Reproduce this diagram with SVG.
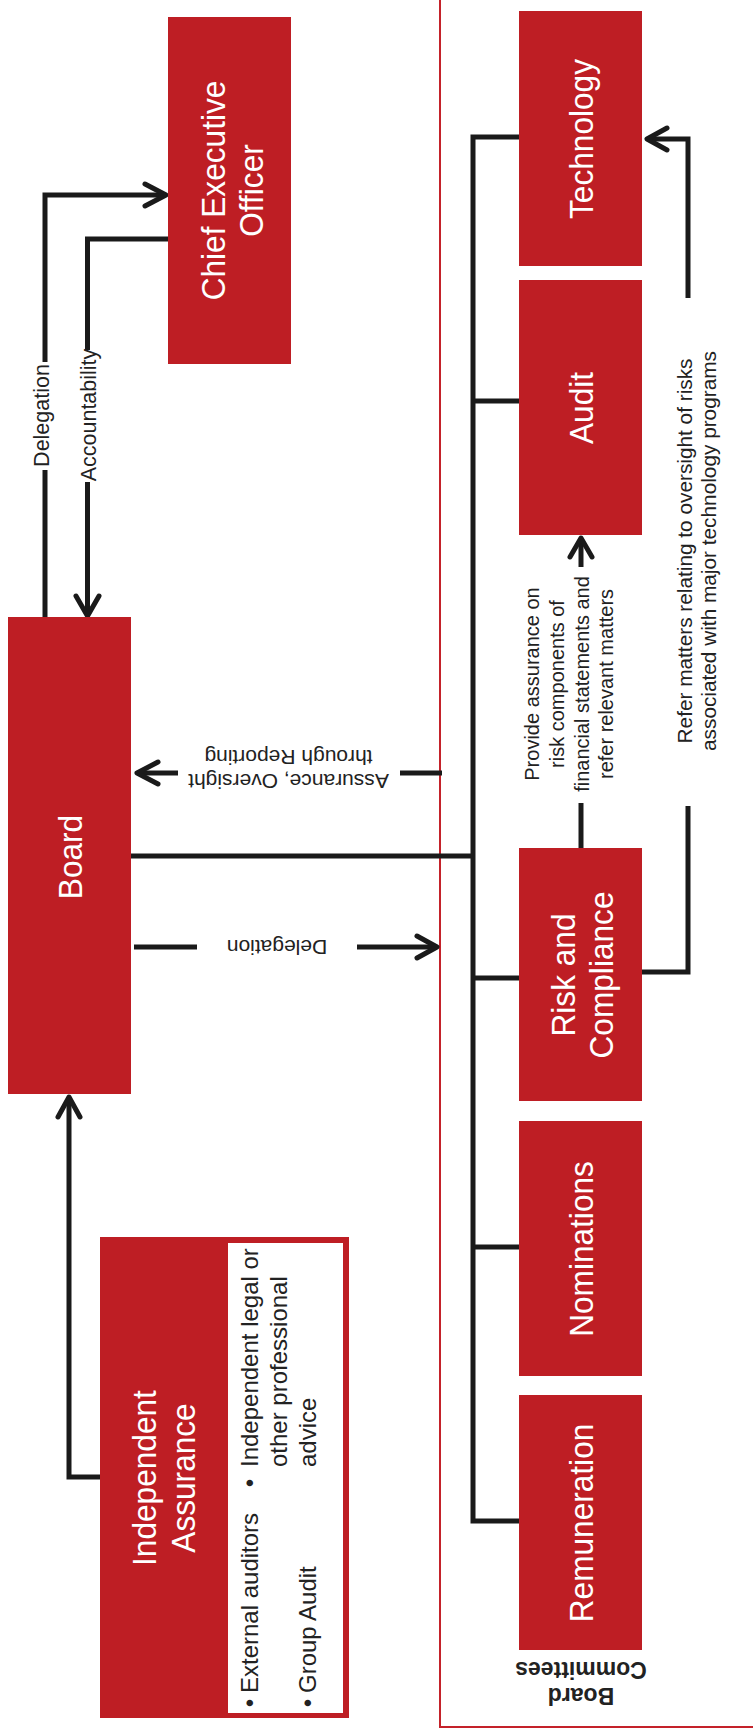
<svg xmlns="http://www.w3.org/2000/svg" width="753" height="1735" viewBox="0 0 753 1735">
<style>
.node{fill:#be1e24}
.t{font-family:"Liberation Sans",Arial,sans-serif;fill:#fff;font-size:34px;text-anchor:middle}
.l{font-family:"Liberation Sans",Arial,sans-serif;fill:#222;font-size:21px;text-anchor:middle}
.b{font-family:"Liberation Sans",Arial,sans-serif;fill:#222;font-size:24px}
.c{fill:none;stroke:#1a1a1a;stroke-width:5;stroke-linejoin:miter}
.h{fill:none;stroke:#1a1a1a;stroke-width:5;stroke-linecap:round;stroke-linejoin:round}
</style>
<rect width="753" height="1735" fill="#fff"/>
<g id="committees-frame">
<path d="M440,0 V1727 H753" fill="none" stroke="#c4222a" stroke-width="2"/>
<text class="l" style="font-weight:bold;font-size:23px" transform="translate(581,1675) rotate(180)"><tspan x="0" y="-13">Board</tspan><tspan x="0" y="13">Committees</tspan></text>
</g>
<g id="connectors">
<path class="c" d="M45,617 V470"/>
<path class="c" d="M45,362 V195 H164"/>
<path class="h" d="M145,184 L166,195 L145,206"/>
<path class="c" d="M170,239 H87.5 V350"/>
<path class="c" d="M87.5,482 V612"/>
<path class="h" d="M76,596 L87.5,616 L99,596"/>
<path class="c" d="M442,773 H400"/>
<path class="c" d="M178,773 H140"/>
<path class="h" d="M158,762 L137,773 L158,784"/>
<path class="c" d="M131,856 H473"/>
<path class="c" d="M134,947 H197"/>
<path class="c" d="M357,947 H434"/>
<path class="h" d="M417,936 L437,947 L417,958"/>
<path class="c" d="M519,137 H473 V1521 H519"/>
<path class="c" d="M473,401 H519"/>
<path class="c" d="M473,978 H519"/>
<path class="c" d="M473,1247 H519"/>
<path class="c" d="M100,1477 H69 V1100"/>
<path class="h" d="M58,1117 L69,1097 L80,1117"/>
<path class="c" d="M581,848 V803"/>
<path class="c" d="M581,567 V541"/>
<path class="h" d="M570,557 L581,538 L592,557"/>
<path class="c" d="M642,972 H688 V806"/>
<path class="c" d="M688,298 V139 H650"/>
<path class="h" d="M667,128 L647,139 L667,150"/>
<text class="l" style="font-size:21.5px" transform="translate(41,415.5) rotate(-90)" y="7.5">Delegation</text>
<text class="l" style="font-size:21.5px" transform="translate(88,415) rotate(-90)" y="7.5">Accountability</text>
<text class="l" transform="translate(288.5,762) rotate(180)"><tspan x="0" y="-12">Assurance, Oversight</tspan><tspan x="0" y="12">through Reporting</tspan></text>
<text class="l" transform="translate(277,947) rotate(180)" y="7.5">Delegation</text>
<text class="l" style="font-size:20px" transform="translate(576,684) rotate(-90)"><tspan x="0" y="-37">Provide assurance on</tspan><tspan x="0" y="-12">risk components of</tspan><tspan x="0" y="13">financial statements and</tspan><tspan x="0" y="37">refer relevant matters</tspan></text>
<text class="l" style="font-size:20.8px" transform="translate(0,551) rotate(-90)"><tspan x="0" y="692">Refer matters relating to oversight of risks</tspan><tspan x="0" y="716">associated with major technology programs</tspan></text>
</g>
<g id="ceo">
<rect class="node" x="168" y="17" width="123" height="347"/>
<text class="t" transform="translate(229.5,190.5) rotate(-90) scale(0.93,1)"><tspan x="0" y="-5">Chief Executive</tspan><tspan x="0" y="34">Officer</tspan></text>
</g>
<g id="board">
<rect class="node" x="8" y="617" width="123" height="477"/>
<text class="t" transform="translate(70,857) rotate(-90) scale(0.93,1)" y="12">Board</text>
</g>
<g id="independent-assurance">
<rect class="node" x="100" y="1237" width="249" height="481"/>
<rect x="228" y="1243" width="115" height="470" fill="#fff"/>
<text class="t" transform="translate(164,1478) rotate(-90) scale(0.93,1)"><tspan x="0" y="-8">Independent</tspan><tspan x="0" y="31">Assurance</tspan></text>
<g class="b" transform="translate(230,1718) rotate(-90)">
<text x="15" y="28" text-anchor="middle">•</text><text x="25" y="28">External auditors</text>
<text x="15" y="86" text-anchor="middle">•</text><text x="25" y="86">Group Audit</text>
<text x="235" y="28" text-anchor="middle">•</text><text x="251" y="28">Independent legal or</text>
<text x="251" y="57">other professional</text>
<text x="251" y="86">advice</text>
</g>
</g>
<g id="technology">
<rect class="node" x="519" y="11" width="123" height="255"/>
<text class="t" transform="translate(580.5,139) rotate(-90) scale(0.93,1)" y="12.5">Technology</text>
</g>
<g id="audit">
<rect class="node" x="519" y="280" width="123" height="255"/>
<text class="t" transform="translate(580.5,408) rotate(-90) scale(0.93,1)" y="12.5">Audit</text>
</g>
<g id="risk-compliance">
<rect class="node" x="519" y="848" width="123" height="253"/>
<text class="t" transform="translate(580.5,975) rotate(-90) scale(0.93,1)"><tspan x="0" y="-6">Risk and</tspan><tspan x="0" y="33">Compliance</tspan></text>
</g>
<g id="nominations">
<rect class="node" x="519" y="1121" width="123" height="255"/>
<text class="t" transform="translate(580.5,1249) rotate(-90) scale(0.93,1)" y="12.5">Nominations</text>
</g>
<g id="remuneration">
<rect class="node" x="519" y="1395" width="123" height="255"/>
<text class="t" transform="translate(580.5,1523) rotate(-90) scale(0.93,1)" y="12.5">Remuneration</text>
</g>
</svg>
